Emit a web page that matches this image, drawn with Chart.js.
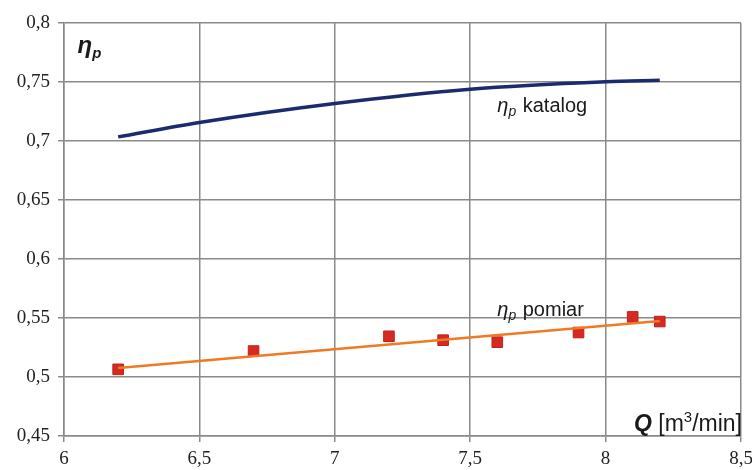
<!DOCTYPE html>
<html>
<head>
<meta charset="utf-8">
<script src="https://cdn.jsdelivr.net/npm/chart.js@4"></script>
<style>
  html, body { margin: 0; padding: 0; background: #fff; }
  #wrap { width: 752px; height: 470px; }
</style>
</head>
<body>
<div id="wrap"><canvas id="chart" width="752" height="470"></canvas></div>
<script>
// katalog curve (Q, eta)
const katalogQ = [6.2, 6.5, 7.0, 7.5, 8.0, 8.2];
const katalogEta = [0.7035, 0.7157, 0.7318, 0.7439, 0.7502, 0.7515];

// measured points
const pomiarQ = [6.2, 6.7, 7.2, 7.4, 7.6, 7.9, 8.1, 8.2];
const pomiarEta = [0.5065, 0.522, 0.5345, 0.5312, 0.5295, 0.5377, 0.5509, 0.547];

// trend line ends
const trendQ = [6.2, 8.2];
const trendEta = [0.5077, 0.5475];

const xTicks = [6, 6.5, 7, 7.5, 8, 8.5];
const yTicks = [0.45, 0.5, 0.55, 0.6, 0.65, 0.7, 0.75, 0.8];

const toPts = (xs, ys) => xs.map((x, i) => ({ x: x, y: ys[i] }));
const fmt = v => String(parseFloat(Number(v).toFixed(2))).replace('.', ',');

// text labels drawn on the plot
function etaLabel(ctx, x, y, rest, size) {
  ctx.textBaseline = 'alphabetic';
  ctx.textAlign = 'left';
  ctx.font = 'italic ' + size + 'px "Liberation Sans"';
  ctx.fillText('η', x, y);
  let w = ctx.measureText('η').width;
  ctx.font = 'italic ' + Math.round(size * 0.68) + 'px "Liberation Sans"';
  ctx.fillText('p', x + w, y + 4);
  w += ctx.measureText('p').width;
  ctx.font = size + 'px "Liberation Sans"';
  ctx.fillText(rest, x + w + 1, y);
}

const labelsPlugin = {
  id: 'labels',
  afterDatasetsDraw(chart) {
    const ctx = chart.ctx;
    const xs = chart.scales.x, ys = chart.scales.y;
    ctx.save();
    ctx.fillStyle = '#1a1a1a';
    etaLabel(ctx, xs.getPixelForValue(7.6), ys.getPixelForValue(0.7245), ' katalog', 20);
    etaLabel(ctx, xs.getPixelForValue(7.6), ys.getPixelForValue(0.5515), ' pomiar', 20);

    // big eta_p in top-left
    ctx.font = 'bold italic 24px "Liberation Sans"';
    ctx.textAlign = 'left';
    ctx.textBaseline = 'alphabetic';
    const ex = xs.getPixelForValue(6.05), ey = ys.getPixelForValue(0.7745);
    ctx.fillText('η', ex, ey);
    const ew = ctx.measureText('η').width;
    ctx.font = 'bold italic 15px "Liberation Sans"';
    ctx.fillText('p', ex + ew, ey + 5);

    // axis title
    const qx = xs.right + 1, qy = ys.bottom - 5;
    ctx.font = '23px "Liberation Sans"';
    ctx.textAlign = 'right';
    ctx.fillText('/min]', qx, qy);
    let w = ctx.measureText('/min]').width;
    ctx.font = '15px "Liberation Sans"';
    ctx.fillText('3', qx - w, qy - 9);
    w += ctx.measureText('3').width;
    ctx.font = '23px "Liberation Sans"';
    ctx.fillText(' [m', qx - w, qy);
    w += ctx.measureText(' [m').width;
    ctx.font = 'bold italic 23px "Liberation Sans"';
    ctx.fillText('Q', qx - w, qy);
    ctx.restore();
  }
};

new Chart(document.getElementById('chart'), {
  type: 'scatter',
  data: {
    datasets: [
      {
        label: 'trend',
        data: toPts(trendQ, trendEta),
        showLine: true,
        borderColor: '#f07a22',
        borderWidth: 2.5,
        pointRadius: 0,
        order: 0
      },
      {
        label: 'pomiar',
        data: toPts(pomiarQ, pomiarEta),
        showLine: false,
        pointStyle: 'rect',
        pointRadius: 7.5,
        backgroundColor: '#d42a22',
        borderColor: '#c0201c',
        borderWidth: 1,
        order: 1
      },
      {
        label: 'katalog',
        data: toPts(katalogQ, katalogEta),
        showLine: true,
        borderColor: '#1c2a6e',
        borderWidth: 3.5,
        pointRadius: 0,
        cubicInterpolationMode: 'monotone',
        order: 0
      }
    ]
  },
  options: {
    responsive: false,
    animation: false,
    layout: { padding: { top: 23, right: 0, left: 0, bottom: 0 } },
    plugins: {
      legend: { display: false },
      tooltip: { enabled: false }
    },
    scales: {
      x: {
        type: 'linear',
        min: 6,
        max: 8.5,
        afterBuildTicks: s => { s.ticks = xTicks.map(v => ({ value: v })); },
        afterFit: s => { s.height = 34; s.paddingRight = 11; s.paddingLeft = 0; },
        grid: { color: '#8a8a8a', lineWidth: 1.5, tickLength: 6 },
        border: { color: '#8a8a8a', width: 1.5 },
        ticks: {
          font: { family: '"Liberation Serif"', size: 19 },
          color: '#222',
          padding: 6,
          maxRotation: 0,
          callback: v => fmt(v)
        }
      },
      y: {
        min: 0.45,
        max: 0.8,
        afterBuildTicks: s => { s.ticks = yTicks.map(v => ({ value: v })); },
        afterFit: s => { s.width = 64; },
        grid: { color: '#8a8a8a', lineWidth: 1.5, tickLength: 6 },
        border: { color: '#8a8a8a', width: 1.5 },
        ticks: {
          font: { family: '"Liberation Serif"', size: 19 },
          color: '#222',
          padding: 8,
          callback: v => fmt(v)
        }
      }
    }
  },
  plugins: [labelsPlugin]
});
</script>
</body>
</html>
